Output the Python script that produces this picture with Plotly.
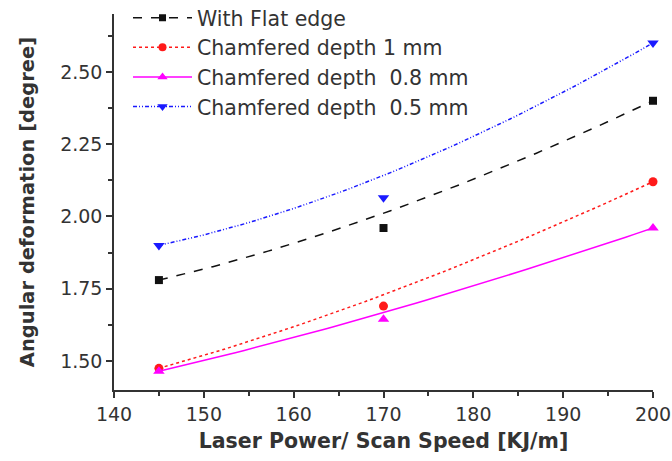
import numpy as np
import plotly.graph_objects as go

x_vals = [145, 170, 200]
flat_edge = [1.78, 1.96, 2.40]
chamf_1mm = [1.475, 1.69, 2.12]
chamf_08mm = [1.465, 1.645, 1.96]
chamf_05mm = [1.90, 2.065, 2.60]

series = [
    ("With Flat edge", flat_edge, "#111111", "dash", "square", 8),
    ("Chamfered depth 1 mm", chamf_1mm, "#ff1a1a", "dot", "circle", 9),
    ("Chamfered depth  0.8 mm", chamf_08mm, "#ff00ff", "solid", "triangle-up", 10),
    ("Chamfered depth  0.5 mm", chamf_05mm, "#1a1aff", "4px,2px,1px,2px,1px,2px", "triangle-down", 10),
]


def bspline(xs, ys, n=60):
    # Origin-style B-spline connection: quadratic Bezier using the data points as control points
    t = np.linspace(0, 1, n)
    xs = np.asarray(xs, float)
    ys = np.asarray(ys, float)
    bx = (1 - t) ** 2 * xs[0] + 2 * t * (1 - t) * xs[1] + t ** 2 * xs[2]
    by = (1 - t) ** 2 * ys[0] + 2 * t * (1 - t) * ys[1] + t ** 2 * ys[2]
    return bx, by


fig = go.Figure()
for name, ys, color, dash, sym, size in series:
    bx, by = bspline(x_vals, ys)
    fig.add_trace(go.Scatter(
        x=bx, y=by, mode="lines", line=dict(color=color, dash=dash, width=1.5),
        showlegend=False, hoverinfo="skip",
    ))
    fig.add_trace(go.Scatter(
        x=x_vals, y=ys, mode="markers", showlegend=False,
        marker=dict(symbol=sym, size=size, color=color),
        cliponaxis=False,
    ))
    fig.add_trace(go.Scatter(
        x=[None], y=[None], mode="lines+markers", name=name,
        line=dict(color=color, dash=dash, width=1.5),
        marker=dict(symbol=sym, size=size - 1, color=color),
    ))

TXT = "#333333"
axis_common = dict(
    showline=True, linecolor=TXT, linewidth=1.5, mirror=False,
    ticks="outside", ticklen=6, tickwidth=1.5, tickcolor=TXT,
    showgrid=False, zeroline=False, automargin=False,
    tickfont=dict(family="DejaVu Sans", size=19, color=TXT),
)

fig.update_layout(
    width=672, height=461,
    margin=dict(l=114, r=19, t=14, b=71, autoexpand=False),
    paper_bgcolor="white", plot_bgcolor="white",
    xaxis=dict(
        range=[140, 200], dtick=10, tick0=140,
        minor=dict(dtick=5, ticks="outside", ticklen=4, tickwidth=1.5, tickcolor=TXT),
        title=dict(text="<b>Laser Power/ Scan Speed [KJ/m]</b>", standoff=10,
                   font=dict(family="DejaVu Sans", size=20.5, color=TXT)),
        **axis_common,
    ),
    yaxis=dict(
        range=[1.4, 2.7], dtick=0.25, tick0=1.5, tickformat=".2f",
        minor=dict(dtick=0.125, tick0=1.375, ticks="outside", ticklen=4, tickwidth=1.5, tickcolor=TXT),
        title=dict(text="<b>Angular deformation [degree]</b>", standoff=20,
                   font=dict(family="DejaVu Sans", size=19.5, color=TXT)),
        **axis_common,
    ),
    legend=dict(
        x=0.026, y=1.043, xanchor="left", yanchor="top",
        bgcolor="rgba(0,0,0,0)", borderwidth=0,
        font=dict(family="DejaVu Sans", size=20.5, color=TXT),
        itemwidth=59,
    ),
)

fig.write_html("out.html")
